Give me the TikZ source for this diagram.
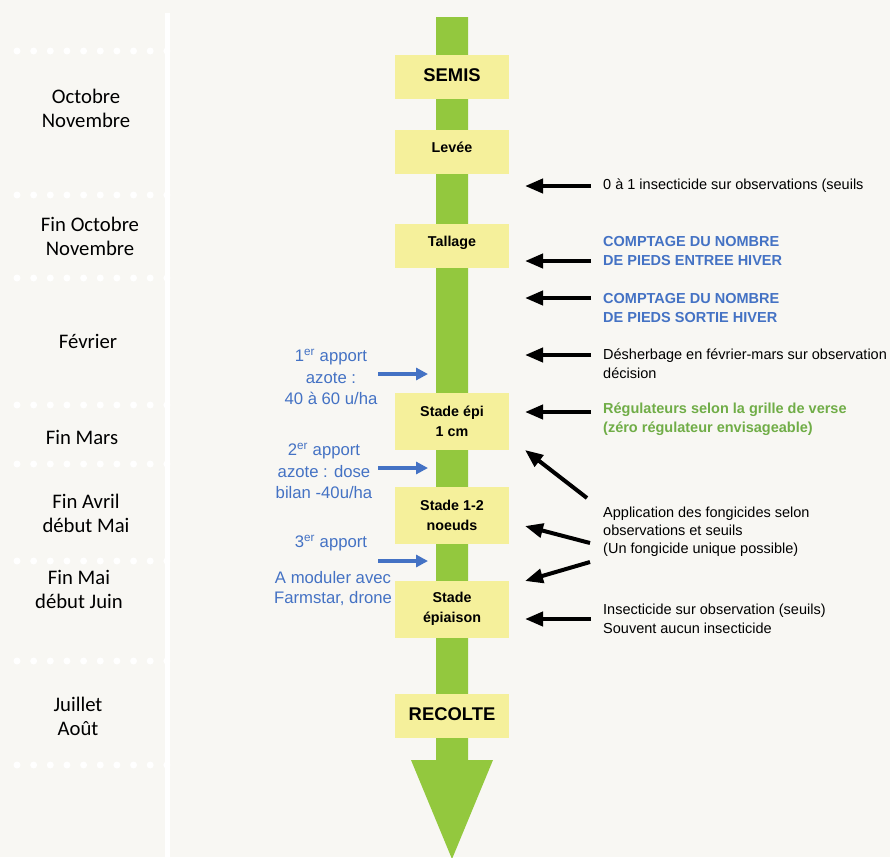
\documentclass[tikz,border=0pt]{standalone}
\usepackage{fontspec}
\setmainfont{Liberation Sans}
\newfontfamily\monthfont{Carlito}
\usetikzlibrary{arrows.meta}

\definecolor{paper}{RGB}{248,247,243}
\definecolor{stemgreen}{RGB}{147,200,62}
\definecolor{boxyellow}{RGB}{245,240,155}
\definecolor{azblue}{RGB}{68,114,196}
\definecolor{regugreen}{RGB}{112,173,71}

\begin{document}
\begin{tikzpicture}[x=1pt,y=-1pt,
        stage/.style={fill=boxyellow,minimum width=114pt,minimum height=57pt,align=center,font=\bfseries\fontsize{14.3}{20}\selectfont},
        stageone/.style={stage,minimum height=44pt,text height=10.5pt,text depth=10pt},
        bigstage/.style={stage,minimum height=44pt,text height=13.5pt,text depth=5pt,font=\bfseries\fontsize{18.4}{22}\selectfont},
        month/.style={align=center,font=\monthfont\fontsize{20.7}{24}\selectfont},
        note/.style={anchor=west,align=left,inner sep=0pt,font=\fontsize{14.5}{19}\selectfont},
        bnote/.style={note,font=\bfseries\fontsize{14.5}{19.5}\selectfont},
        azote/.style={align=center,inner sep=0pt,text=azblue,font=\fontsize{16.7}{21.5}\selectfont},
        blk/.style={line width=4pt,-{Triangle[length=18pt,width=14pt]}},
        blu/.style={azblue,line width=4pt,-{Triangle[length=12pt,width=12pt]}}]
        \fill[paper] (0,0) rectangle (890,857);
        \useasboundingbox (0,0) rectangle (890,857);

        % month column
        \fill[white] (165,13) rectangle (170,857);
        \foreach \y in {51,195,278,405,464,561,661,765}
                \foreach \i in {0,...,9}
                        \fill[white] (17+16.65*\i,\y) circle (3.5pt);
        \node[month] (octnov) at (86,108) {Octobre\\Novembre};
        \node[month] (finoct) at (90,236) {Fin Octobre\\Novembre};
        \node[month] (fev) at (88,341) {Février};
        \node[month] (mars) at (82,437) {Fin Mars};
        \node[month] (avrmai) at (86,513) {Fin Avril\\début Mai};
        \node[month] (maijuin) at (79,589) {Fin Mai\\début Juin};
        \node[month] (juiaou) at (78,716) {Juillet\\Août};

        % stem and stages
        \fill[stemgreen] (436,17) -- (468,17) -- (468,760) -- (493,760) -- (452,859) -- (411,760) -- (436,760) -- cycle;
        \node[bigstage] (semis) at (452,77) {SEMIS};
        \node[stageone] (levee) at (452,152) {Levée};
        \node[stageone] (tallage) at (452,246) {Tallage};
        \node[stage] (epi) at (452,421) {Stade épi\\1 cm};
        \node[stage] (noeuds) at (452,515) {Stade 1-2\\noeuds};
        \node[stage] (epiaison) at (452,609) {Stade\\épiaison};
        \node[bigstage] (recolte) at (452,716) {RECOLTE};

        % nitrogen
        \node[azote] (azote1) at (331,377) {1\textsuperscript{er} apport\\azote :\\40 à 60 u/ha};
        \node[azote] (azote2) at (324,471) {2\textsuperscript{er} apport\\azote : dose\\bilan -40u/ha};
        \node[azote] (azote3) at (331,543) {3\textsuperscript{er} apport};
        \node[azote,font=\fontsize{16.7}{20}\selectfont] (farm) at (333,589) {A moduler avec\\Farmstar, drone};
        \coordinate (az1s) at (378,374); \coordinate (az1e) at (428,374);
        \coordinate (az2s) at (378,468); \coordinate (az2e) at (428,468);
        \coordinate (az3s) at (378,561); \coordinate (az3e) at (428,561);
        \draw[blu] (az1s) -- (az1e);
        \draw[blu] (az2s) -- (az2e);
        \draw[blu] (az3s) -- (az3e);

        % interventions
        \node[note] (ins1) at (603,186) {0 à 1 insecticide sur observations (seuils};
        \node[bnote,text=azblue] (cpt1) at (603,251) {COMPTAGE DU NOMBRE\\DE PIEDS ENTREE HIVER};
        \node[bnote,text=azblue] (cpt2) at (603,308) {COMPTAGE DU NOMBRE\\DE PIEDS SORTIE HIVER};
        \node[note] (desh) at (603,364) {Désherbage en février-mars sur observation\\décision};
        \node[bnote,text=regugreen] (regu) at (603,419) {Régulateurs selon la grille de verse\\(zéro régulateur envisageable)};
        \node[note,font=\fontsize{14.5}{18}\selectfont] (fong) at (603,532) {Application des fongicides selon\\observations et seuils\\(Un fongicide unique possible)};
        \node[note] (ins2) at (603,619) {Insecticide sur observation (seuils)\\Souvent aucun insecticide};
        \coordinate (i1s) at (591,186); \coordinate (i1e) at (525,186);
        \coordinate (c1s) at (591,261); \coordinate (c1e) at (525,261);
        \coordinate (c2s) at (591,298); \coordinate (c2e) at (525,298);
        \coordinate (d1s) at (591,355); \coordinate (d1e) at (525,355);
        \coordinate (r1s) at (591,412); \coordinate (r1e) at (525,412);
        \coordinate (f1s) at (587,498); \coordinate (f1e) at (525,450);
        \coordinate (f2s) at (590,543); \coordinate (f2e) at (525,526);
        \coordinate (f3s) at (590,562); \coordinate (f3e) at (525,581);
        \coordinate (i2s) at (591,619); \coordinate (i2e) at (525,619);
        \draw[blk] (i1s) -- (i1e);
        \draw[blk] (c1s) -- (c1e);
        \draw[blk] (c2s) -- (c2e);
        \draw[blk] (d1s) -- (d1e);
        \draw[blk] (r1s) -- (r1e);
        \draw[blk] (f1s) -- (f1e);
        \draw[blk] (f2s) -- (f2e);
        \draw[blk] (f3s) -- (f3e);
        \draw[blk] (i2s) -- (i2e);
\end{tikzpicture}
\end{document}
